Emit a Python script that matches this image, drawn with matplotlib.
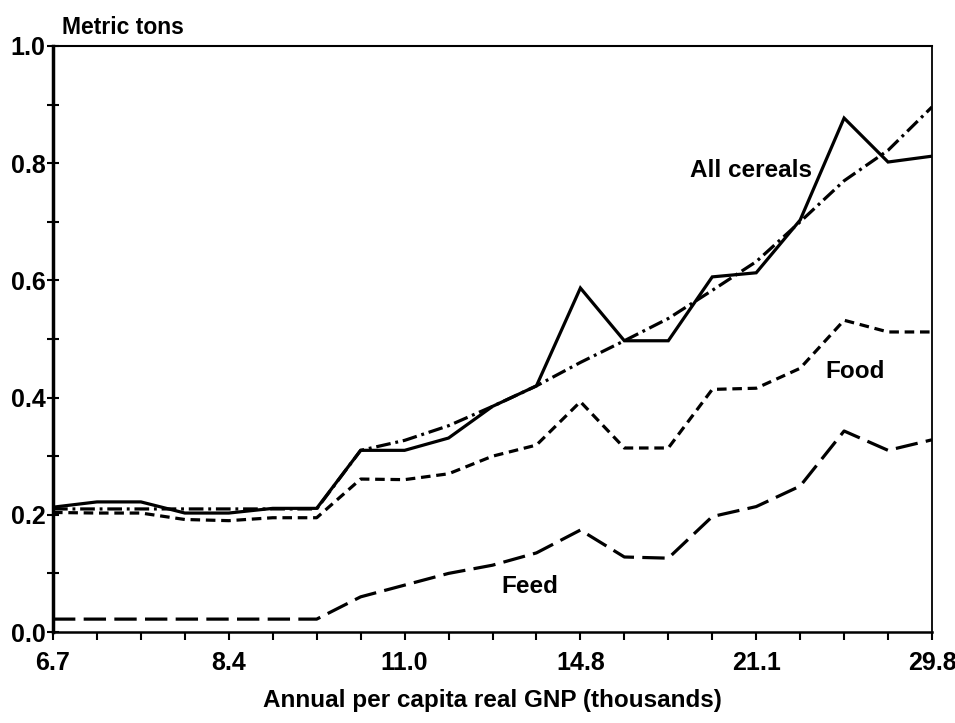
import matplotlib
matplotlib.use("Agg")
import matplotlib.pyplot as plt
from matplotlib.ticker import MultipleLocator, FixedLocator
import numpy as np

plt.rcParams['font.family'] = ['Liberation Sans', 'DejaVu Sans']
plt.rcParams['font.weight'] = 'bold'

# GNP classes (thousands), one point per class
tick_labels = ['6.7', '8.4', '11.0', '14.8', '21.1', '29.8']
tick_pos = [0, 4, 8, 12, 16, 20]

all_cereals = [0.213, 0.222, 0.222, 0.203, 0.203, 0.211, 0.211, 0.310, 0.310, 0.331,
               0.385, 0.420, 0.587, 0.497, 0.497, 0.606, 0.613, 0.703, 0.877, 0.802, 0.812]
trend = [0.210, 0.210, 0.210, 0.210, 0.210, 0.210, 0.210, 0.310, 0.327, 0.352,
         0.385, 0.420, 0.460, 0.497, 0.535, 0.583, 0.632, 0.700, 0.770, 0.822, 0.896]
food = [0.204, 0.203, 0.203, 0.192, 0.190, 0.195, 0.195, 0.261, 0.260, 0.270,
        0.300, 0.319, 0.393, 0.314, 0.314, 0.414, 0.416, 0.450, 0.532, 0.512, 0.512]
feed = [0.022, 0.022, 0.022, 0.022, 0.022, 0.022, 0.022, 0.060, 0.080, 0.100,
        0.114, 0.135, 0.174, 0.128, 0.126, 0.197, 0.214, 0.249, 0.343, 0.310, 0.328]

x = np.arange(len(all_cereals))

fig = plt.figure(figsize=(9.55, 7.23), dpi=100)
ax = fig.add_axes([53/955, 1 - 632/723, (932 - 53)/955, (632 - 46)/723])

lw = 2.3
ax.plot(x, trend, color='black', lw=lw, dashes=(4.6, 1.5, 0.9, 1.5))
ax.plot(x, food, color='black', lw=lw, dashes=(3.0, 1.8))
ax.plot(x, feed, color='black', lw=lw, dashes=(7.0, 2.6))
ax.plot(x, all_cereals, color='black', lw=lw, solid_joinstyle='miter')

ax.set_xlim(0, 20)
ax.set_ylim(0, 1.0)

ax.xaxis.set_major_locator(FixedLocator(tick_pos))
ax.set_xticklabels(tick_labels)
ax.xaxis.set_minor_locator(MultipleLocator(1))
ax.yaxis.set_major_locator(MultipleLocator(0.2))
ax.yaxis.set_minor_locator(MultipleLocator(0.1))
ax.yaxis.set_major_formatter(plt.FuncFormatter(lambda v, p: f'{v:.1f}'))

ax.tick_params(axis='x', which='both', direction='out', length=6, width=1.5,
               labelsize=18, pad=8)
ax.tick_params(axis='y', which='both', direction='inout', length=9, width=1.5,
               labelsize=18, pad=1)

ax.spines['left'].set_linewidth(2.5)
ax.spines['bottom'].set_linewidth(1.8)
ax.spines['top'].set_linewidth(1.5)
ax.spines['right'].set_linewidth(1.3)

ax.text(15.88, 0.788, 'All cereals', fontsize=17.5, fontweight='bold',
        ha='center', va='center')
ax.text(18.25, 0.444, 'Food', fontsize=17.5, fontweight='bold',
        ha='center', va='center')
ax.text(10.85, 0.077, 'Feed', fontsize=17.5, fontweight='bold',
        ha='center', va='center')

fig.text(62/955, 1 - 28/723, 'Metric tons', fontsize=16.5, fontweight='bold',
         ha='left', va='center')
fig.text(492/955, 1 - 700/723, 'Annual per capita real GNP (thousands)',
         fontsize=17.5, fontweight='bold', ha='center', va='center')

fig.savefig('out.png', dpi=100)
